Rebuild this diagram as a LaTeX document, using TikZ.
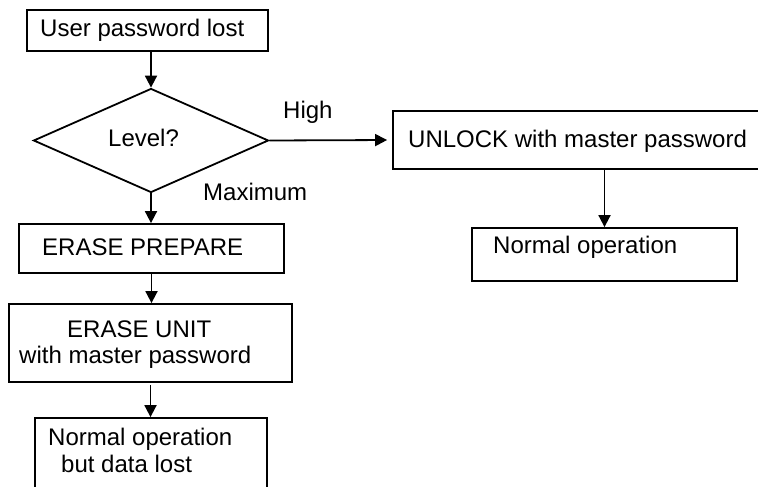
\documentclass[tikz,border=0pt]{standalone}
\usepackage{fontspec}
\setmainfont{Liberation Sans}
\usetikzlibrary{shapes.geometric,arrows.meta}
\begin{document}
\begin{tikzpicture}[x=1pt,y=-1pt,
  box/.style={draw, rectangle, line width=1.8pt, inner sep=0pt},
  txt/.style={anchor=base west, inner sep=0pt, font=\fontsize{24}{28}\selectfont},
  conn/.style={line width=1.8pt, -{Triangle[length=12pt,width=12pt]}}]
\path[use as bounding box, clip] (0,0) rectangle (758,487);
% boxes
\node[box, minimum width=241pt, minimum height=41pt] (start) at (147.5,30.5) {};
\node[draw, diamond, line width=1.8pt, inner sep=0pt, minimum width=235pt, minimum height=104pt] (level) at (151,140.5) {};
\node[box, minimum width=265pt, minimum height=49pt] (prep) at (151.5,248.5) {};
\node[box, minimum width=283pt, minimum height=78pt] (erase) at (150.5,343) {};
\node[box, minimum width=232pt, minimum height=90pt] (lost) at (151,463) {};
\node[box, minimum width=380pt, minimum height=58pt] (unlock) at (583,140) {};
\node[box, minimum width=265pt, minimum height=53pt] (normal) at (604.5,254.5) {};
% texts
\node[txt] (tstart) at (40,37) {User password lost};
\node[txt] (tlevel) at (108,146) {Level?};
\node[txt] (thigh) at (283,118) {High};
\node[txt] (tmax) at (203,200) {Maximum};
\node[txt] (tprep) at (42,255) {ERASE PREPARE};
\node[txt] (terase1) at (67,337) {ERASE UNIT};
\node[txt] (terase2) at (19,363) {with master password};
\node[txt] (tlost1) at (48,445) {Normal operation};
\node[txt] (tlost2) at (61,472) {but data lost};
\node[txt] (tunlock) at (408,147) {UNLOCK with master password};
\node[txt] (tnormal) at (493,253) {Normal operation};
% connectors
\draw[conn] (level.north |- start.south) -- (level.north);
\draw[conn, shorten >=5pt] (level.east) -- (unlock.west);
\draw[conn] (normal.north |- unlock.south) -- (normal.north);
\draw[conn] (level.south) -- (level.south |- prep.north);
\draw[conn] (prep.south) -- (prep.south |- erase.north);
\draw[conn, shorten <=2pt] (erase.south) -- (erase.south |- lost.north);
\end{tikzpicture}
\end{document}
